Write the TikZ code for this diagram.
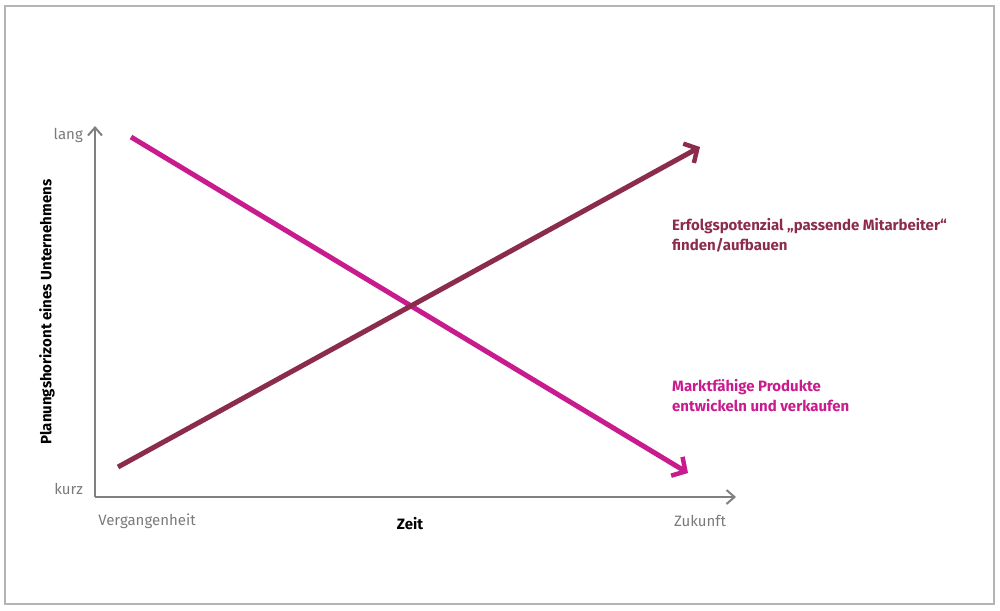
\documentclass[tikz,border=0pt]{standalone}
\usepackage{fontspec}
\setmainfont{Fira Sans}
\usetikzlibrary{arrows.meta}
\definecolor{framegray}{HTML}{B4B4B4}
\definecolor{axisgray}{HTML}{808080}
\definecolor{txtgray}{HTML}{7A7A7A}
\definecolor{wine}{HTML}{8C2C4C}
\definecolor{magenta2}{HTML}{C81C8E}
\begin{document}
\begin{tikzpicture}[x=1pt,y=-1pt,
  axis/.style={draw=axisgray,line width=2.2pt,-{Straight Barb[length=8pt,width=14pt,line width=2pt]}},
  trend/.style={line width=5pt,-{Straight Barb[length=10pt,width=22pt,line width=4.5pt]}},
  ticklbl/.style={text=txtgray,font=\fontsize{15}{17}\selectfont,inner sep=0pt},
  boldlbl/.style={font=\fontsize{15}{17}\selectfont\bfseries,inner sep=0pt},
  note/.style={font=\fontsize{15}{20}\selectfont\bfseries,inner sep=0pt,align=left,anchor=north west}]
\useasboundingbox (0,0) rectangle (1000,610);
\draw[framegray,line width=2pt] (5,6) rectangle (994,604);
\coordinate (O) at (95,497);
\coordinate (Ytop) at (95,126);
\coordinate (Xend) at (736,497);
\draw[axis] (O) -- (Ytop);
\draw[axis] (O) -- (Xend);
\node[ticklbl,anchor=east] (lang) at (83,135) {lang};
\node[ticklbl,anchor=east] (kurz) at (83,489) {kurz};
\node[ticklbl] (verg) at (147,521) {Vergangenheit};
\node[ticklbl] (zuk) at (700,521) {Zukunft};
\node[boldlbl] (zeit) at (410,524) {Zeit};
\node[boldlbl,rotate=90] (ylab) at (47,312) {Planungshorizont eines Unternehmens};
\coordinate (w1) at (118,467);
\coordinate (w2) at (700,147);
\coordinate (m1) at (131,137);
\coordinate (m2) at (688,473);
\draw[trend,magenta2] (m1) -- (m2);
\draw[trend,wine] (w1) -- (w2);
\node[note,text=wine] (erf) at (672,218) {Erfolgspotenzial „passende Mitarbeiter“\\finden/aufbauen};
\node[note,text=magenta2] (markt) at (672,379) {Marktfähige Produkte\\entwickeln und verkaufen};
\end{tikzpicture}
\end{document}
